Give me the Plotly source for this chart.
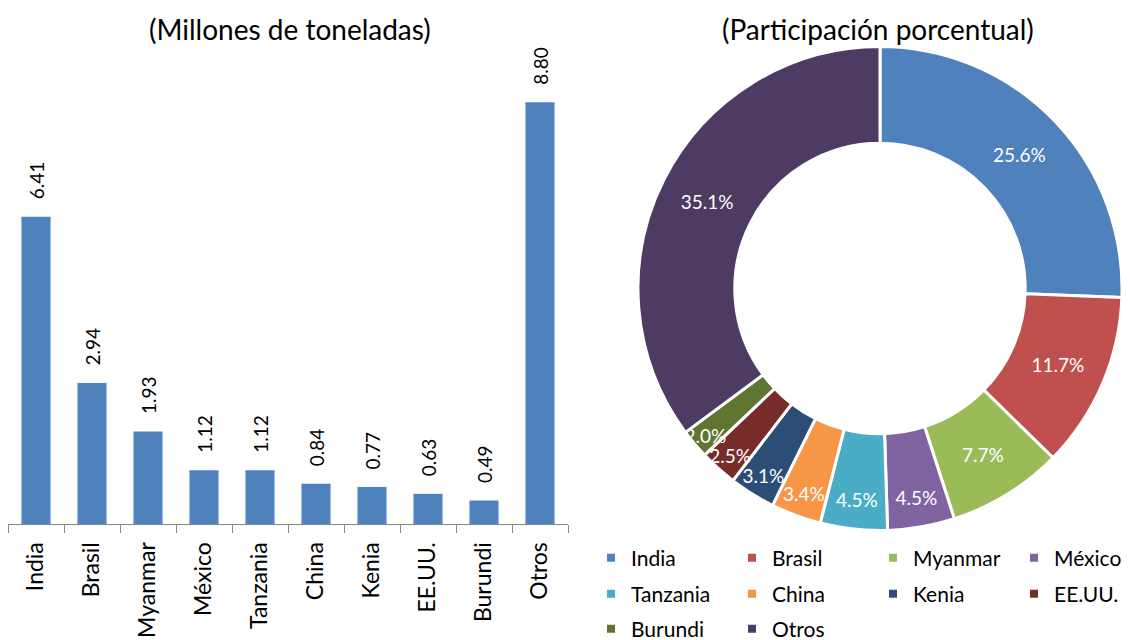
import plotly.graph_objects as go

countries = ["India", "Brasil", "Myanmar", "México", "Tanzania", "China", "Kenia", "EE.UU.", "Burundi", "Otros"]
production = [6.41, 2.94, 1.93, 1.12, 1.12, 0.84, 0.77, 0.63, 0.49, 8.80]
pie_colors = ["#4F81BD", "#C0504D", "#9BBB59", "#8064A2", "#4BACC6", "#F79646",
              "#2C4D75", "#772C2A", "#5F7530", "#4D3B62"]
legend_rows = [countries[0:4], countries[4:8], countries[8:10]]
title_left = "(Millones de toneladas)"
title_right = "(Participación porcentual)"

FONT = "Lato, 'Open Sans', sans-serif"
OFF = 8                      # page body margin of the html page
W, H = 1130 - OFF, 640 - OFF


def px(x):                   # screen x -> paper fraction
    return (x - OFF) / W


def py(y):                   # screen y -> paper fraction
    return (H - (y - OFF)) / H


fig = go.Figure()

fig.add_trace(go.Bar(
    x=countries, y=production,
    texttemplate="\u00a0\u00a0\u00a0%{y:.2f}",
    textposition="outside", textangle=-90,
    textfont=dict(size=19, color="#000000", family=FONT),
    marker=dict(color="#4F81BD", line=dict(width=0)),
    cliponaxis=False, showlegend=False, hoverinfo="skip",
))

fig.add_trace(go.Pie(
    labels=countries, values=production, sort=False, direction="clockwise",
    rotation=0, hole=0.6,
    marker=dict(colors=pie_colors, line=dict(color="#FFFFFF", width=3)),
    texttemplate="%{percent:.1%}", textposition="inside",
    insidetextorientation="horizontal",
    textfont=dict(size=19, color="#FFFFFF", family=FONT),
    domain=dict(x=[px(638), px(1122)], y=[py(531), py(46)]),
    showlegend=False,
))

# legend swatches (one legend per row, same colours/names as the slices)
legend_names = ["legend", "legend2", "legend3"]
for li, row in enumerate(legend_rows):
    for name in row:
        idx = countries.index(name)
        fig.add_trace(go.Scatter(
            x=[None], y=[None], mode="markers", name=name,
            marker=dict(symbol="square", size=8, color=pie_colors[idx]),
            legend=legend_names[li], showlegend=True, hoverinfo="skip",
        ))

row_y = [558, 594, 629]
leg_common = dict(orientation="h", x=px(591), xanchor="left", yanchor="middle",
                  entrywidth=96, entrywidthmode="pixels",
                  font=dict(size=21, family=FONT, color="#000000"),
                  bgcolor="rgba(0,0,0,0)", traceorder="normal")

fig.update_layout(
    width=W, height=H,
    margin=dict(l=0, r=0, t=0, b=0, autoexpand=False),
    paper_bgcolor="#FFFFFF", plot_bgcolor="#FFFFFF",
    font=dict(family=FONT, color="#000000"),
    bargap=0.48,
    uniformtext=dict(minsize=19, mode="show"),
    xaxis=dict(domain=[px(8), px(568)], showgrid=False, showline=True,
               linecolor="#868686", linewidth=1, ticks="outside", ticklen=8,
               tickcolor="#868686", tickson="boundaries", tickangle=-90,
               ticklabelstandoff=8,
               tickfont=dict(size=23, family=FONT, color="#000000"),
               automargin=False, fixedrange=True),
    yaxis=dict(domain=[py(524), py(40)], range=[0, 10.1],
               visible=False, showgrid=False, zeroline=False, fixedrange=True),
    legend=dict(y=py(row_y[0]), **leg_common),
    legend2=dict(y=py(row_y[1]), **leg_common),
    legend3=dict(y=py(row_y[2]), **leg_common),
    annotations=[
        dict(text=title_left, x=px(290), y=py(29), xref="paper", yref="paper",
             showarrow=False, font=dict(size=28, family=FONT, color="#000000"),
             xanchor="center", yanchor="middle"),
        dict(text=title_right, x=px(878), y=py(29), xref="paper", yref="paper",
             showarrow=False, font=dict(size=28, family=FONT, color="#000000"),
             xanchor="center", yanchor="middle"),
    ],
)

fig.write_html("out.html")
